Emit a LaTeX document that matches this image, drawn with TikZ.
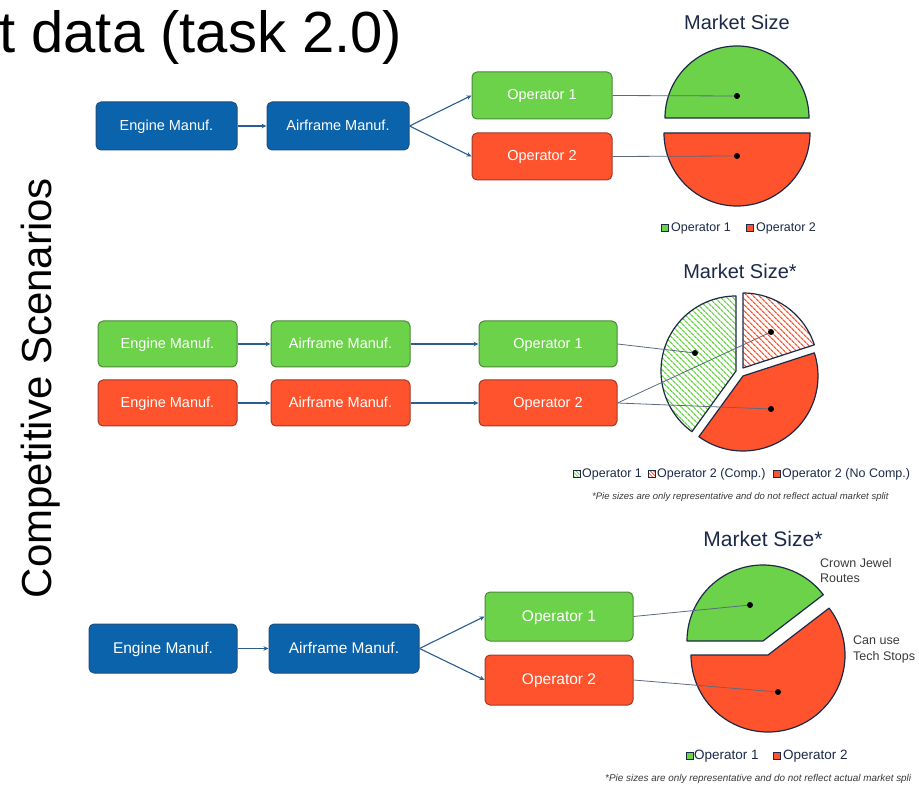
\documentclass[tikz,border=0pt]{standalone}
\usepackage{fontspec}
\setmainfont{Liberation Sans}
\usetikzlibrary{arrows.meta,patterns.meta}
\definecolor{bluef}{HTML}{0B63AC}
\definecolor{blued}{HTML}{1E4E80}
\definecolor{grnf}{HTML}{6CD24A}
\definecolor{grnd}{HTML}{4A8A36}
\definecolor{redf}{HTML}{FF532D}
\definecolor{redd}{HTML}{9E3B24}
\definecolor{navy}{HTML}{1C2A48}
\definecolor{arr}{HTML}{2A5D92}
\definecolor{conn}{HTML}{5B6A80}
\definecolor{foot}{HTML}{3A3A3A}
\newcommand\fsz[1]{\fontsize{#1}{#1}\selectfont}
\begin{document}
\begin{tikzpicture}[x=1pt,y=-1pt,
  box/.style={rounded corners=5pt, line width=1pt, text=white, inner sep=0pt, text height=1em, text depth=0.1em},
  bluebox/.style={box, fill=bluef, draw=blued},
  grnbox/.style={box, fill=grnf, draw=grnd},
  redbox/.style={box, fill=redf, draw=redd},
  flow/.style={draw=arr, line width=1.1pt, -{Stealth[length=5pt,width=4.5pt]}},
  conn/.style={draw=conn, line width=0.8pt},
  pie/.style={draw=navy, line width=1.2pt, line join=round},
  dotc/.style={fill=black},
  lsq/.style={draw=navy, line width=0.7pt, minimum size=7pt, inner sep=0pt},
  ltext/.style={anchor=west, text=navy, inner sep=0pt},
  ptitle/.style={text=navy, inner sep=0pt},
  hatchg/.style={pattern={Lines[angle=-45,distance=4pt,line width=1.3pt]}, pattern color=grnf},
  hatchr/.style={pattern={Lines[angle=-45,distance=4pt,line width=1.3pt]}, pattern color=redf},
  hatchgs/.style={pattern={Lines[angle=-45,distance=2.5pt,line width=0.8pt]}, pattern color=grnf},
  hatchrs/.style={pattern={Lines[angle=-45,distance=2.5pt,line width=0.8pt]}, pattern color=redf},
  foottext/.style={anchor=west, text=foot, inner sep=0pt},
  sidetext/.style={anchor=base west, align=left, text=foot, inner sep=0pt},
]
\useasboundingbox[fill=white] (0,0) rectangle (919,786);

% titles
\node[anchor=base west, font=\fsz{58}, inner sep=0pt] (title) at (-1,53) {t data (task 2.0)};
\node[rotate=90, font=\fsz{42}, inner sep=0pt] (cs) at (41,388) {Competitive Scenarios};

% ---------------- Section 1 ----------------
\node[bluebox, minimum width=141, minimum height=48, font=\fsz{14.5}] (e1) at (166.5,126) {Engine Manuf.};
\node[bluebox, minimum width=142, minimum height=48, font=\fsz{14.5}] (a1) at (338,126) {Airframe Manuf.};
\node[grnbox, minimum width=140, minimum height=47, font=\fsz{14.5}] (o11) at (542,95.5) {Operator 1};
\node[redbox, minimum width=140, minimum height=47, font=\fsz{14.5}] (o12) at (542,156.5) {Operator 2};
\draw[flow] (e1) -- (a1);
\draw[flow] (a1.east) -- (o11.west);
\draw[flow] (a1.east) -- (o12.west);

\node[ptitle, font=\fsz{20}] (mt1) at (737,22) {Market Size};
\begin{scope}[shift={(737,118)}]
  \draw[pie, fill=grnf] (0:72pt) arc[start angle=0, end angle=180, radius=72pt] -- cycle;
\end{scope}
\begin{scope}[shift={(737,133)}]
  \draw[pie, fill=redf] (180:73pt) arc[start angle=180, end angle=360, radius=73pt] -- cycle;
\end{scope}
\coordinate (p11) at (737,96);
\coordinate (p12) at (737,156);
\draw[conn] (o11.east) -- (p11);
\draw[conn] (o12.east) -- (p12);
\fill[dotc] (p11) circle (3pt);
\fill[dotc] (p12) circle (3pt);

\node[lsq, fill=grnf] (l11) at (664.5,228) {};
\node[ltext, font=\fsz{12.5}] (lt11) at (671,228) {Operator 1};
\node[lsq, fill=redf] (l12) at (750,228) {};
\node[ltext, font=\fsz{12.5}] (lt12) at (756,228) {Operator 2};

% ---------------- Section 2 ----------------
\node[grnbox, minimum width=139, minimum height=46, font=\fsz{14.5}] (e21) at (167.5,344) {Engine Manuf.};
\node[grnbox, minimum width=139, minimum height=46, font=\fsz{14.5}] (a21) at (340.5,344) {Airframe Manuf.};
\node[grnbox, minimum width=138, minimum height=46, font=\fsz{14.5}] (o21) at (548,344) {Operator 1};
\node[redbox, minimum width=139, minimum height=46, font=\fsz{14.5}] (e22) at (167.5,403) {Engine Manuf.};
\node[redbox, minimum width=139, minimum height=46, font=\fsz{14.5}] (a22) at (340.5,403) {Airframe Manuf.};
\node[redbox, minimum width=138, minimum height=46, font=\fsz{14.5}] (o22) at (548,403) {Operator 2};
\draw[flow] (e21) -- (a21);
\draw[flow] (a21) -- (o21);
\draw[flow] (e22) -- (a22);
\draw[flow] (a22) -- (o22);

\node[ptitle, font=\fsz{20}] (mt2) at (740,271) {Market Size*};
\begin{scope}[shift={(736,371)}]
  \draw[pie, hatchg] (0,0) -- (90:75pt) arc[start angle=90, end angle=234, radius=75pt] -- cycle;
\end{scope}
\begin{scope}[shift={(743,368)}]
  \draw[pie, hatchr] (0,0) -- (18:75pt) arc[start angle=18, end angle=90, radius=75pt] -- cycle;
\end{scope}
\begin{scope}[shift={(743,376)}]
  \draw[pie, fill=redf] (0,0) -- (-126:75pt) arc[start angle=-126, end angle=18, radius=75pt] -- cycle;
\end{scope}
\coordinate (p21) at (695,353);
\coordinate (p22) at (771,332);
\coordinate (p23) at (771,409);
\draw[conn] (o21.east) -- (p21);
\draw[conn] (o22.east) -- (p22);
\draw[conn] (o22.east) -- (p23);
\fill[dotc] (p21) circle (3pt);
\fill[dotc] (p22) circle (3pt);
\fill[dotc] (p23) circle (3pt);

\node[lsq, hatchgs] (l21) at (576.5,474) {};
\node[ltext, font=\fsz{12.5}] (lt21) at (582,474) {Operator 1};
\node[lsq, hatchrs] (l22) at (651.5,474) {};
\node[ltext, font=\fsz{12.5}] (lt22) at (657,474) {Operator 2 (Comp.)};
\node[lsq, fill=redf] (l23) at (776.5,474) {};
\node[ltext, font=\fsz{12.5}] (lt23) at (782,474) {Operator 2 (No Comp.)};
\node[foottext, font=\fsz{9.5}\itshape] (fn2) at (592,497) {*Pie sizes are only representative and do not reflect actual market split};

% ---------------- Section 3 ----------------
\node[bluebox, minimum width=148, minimum height=49, font=\fsz{15.5}] (e3) at (163,648.5) {Engine Manuf.};
\node[bluebox, minimum width=150, minimum height=49, font=\fsz{15.5}] (a3) at (344,648.5) {Airframe Manuf.};
\node[grnbox, minimum width=148, minimum height=49, font=\fsz{15.5}] (o31) at (559,616.5) {Operator 1};
\node[redbox, minimum width=148, minimum height=50, font=\fsz{15.5}] (o32) at (559,680) {Operator 2};
\draw[flow] (e3) -- (a3);
\draw[flow] (a3.east) -- (o31.west);
\draw[flow] (a3.east) -- (o32.west);

\node[ptitle, font=\fsz{21}] (mt3) at (763,539) {Market Size*};
\begin{scope}[shift={(763,641)}]
  \draw[pie, fill=grnf] (0,0) -- (37.5:76pt) arc[start angle=37.5, end angle=180, radius=76pt] -- cycle;
\end{scope}
\begin{scope}[shift={(768,655)}]
  \draw[pie, fill=redf] (0,0) -- (180:77pt) arc[start angle=180, end angle=397.5, radius=77pt] -- cycle;
\end{scope}
\coordinate (p31) at (750,605);
\coordinate (p32) at (778,692);
\draw[conn] (o31.east) -- (p31);
\draw[conn] (o32.east) -- (p32);
\fill[dotc] (p31) circle (3pt);
\fill[dotc] (p32) circle (3pt);

\node[sidetext, font=\fontsize{12.5}{15}\selectfont] (cj) at (820,582.5) {Crown Jewel\\Routes};
\node[sidetext, font=\fontsize{12.5}{16}\selectfont] (cu) at (853,660.5) {Can use\\Tech Stops};

\node[lsq, fill=grnf] (l31) at (689.5,756) {};
\node[ltext, font=\fsz{13.5}] (lt31) at (694,756) {Operator 1};
\node[lsq, fill=redf] (l32) at (776.5,756) {};
\node[ltext, font=\fsz{13.5}] (lt32) at (783,756) {Operator 2};
\node[foottext, font=\fsz{9.9}\itshape] (fn3) at (605,779) {*Pie sizes are only representative and do not reflect actual market spli};
\end{tikzpicture}
\end{document}
